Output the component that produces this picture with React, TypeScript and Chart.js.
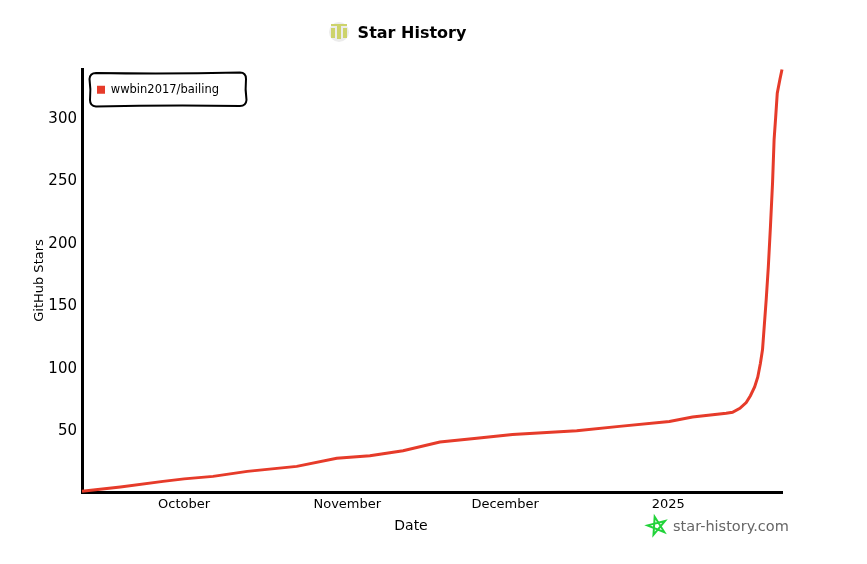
import React, { useEffect, useRef } from "react";
import { Chart, registerables } from "chart.js";

Chart.register(...registerables);

const SERIES_NAME = "wwbin2017/bailing";
const CHART_TITLE = "Star History";
const X_TITLE = "Date";
const Y_TITLE = "GitHub Stars";
const WATERMARK = "star-history.com";
// days since 1 October 2024
const dayOffsets = [-19.4, -12.1, -4, 0, 5.5, 12, 21.4, 29, 35.3, 41.6, 48.6, 55.6, 62.4, 68.9, 74.6, 82.7, 92.2, 96.6, 103, 104.2, 105.6, 106.8, 107.6, 108.4, 109, 109.5, 109.9, 110.6, 111, 111.4, 111.8, 112.1, 112.4, 112.7, 113.2, 113.6];
const stars = [0.6, 4, 8.5, 10.5, 12.5, 16.5, 20.5, 27, 29, 33, 40, 43, 46, 47.6, 49, 52.5, 56.4, 60, 63, 63.8, 67, 71.6, 77, 84, 92, 103, 114, 154, 180, 212, 247, 282, 300, 319, 330, 338];
const xTickValues = [0, 31, 61, 92];
const xTickLabels = ["October", "November", "December", "2025"];
const yTickValues = [50, 100, 150, 200, 250, 300];
const X_MIN = -19.4;
const X_MAX = 113.6;
const Y_MAX = 338.4;
const RED = "#e63b2a";
const FONT = "'DejaVu Sans'";

const decorations = {
  id: "decorations",
  afterLayout(chart: any) {
    // keep the legend inside the top-left of the plot
    const lg = chart.legend;
    const h = lg.bottom - lg.top;
    lg.top = chart.chartArea.top;
    lg.bottom = lg.top + h;
  },
  beforeDraw(chart: any) {
    // nudge the y labels onto their tick positions
    chart.scales.y.getLabelItems().forEach((it: any) => {
      if (!it.nudged) {
        it.options.translation[1] += 2;
        it.nudged = true;
      }
    });
  },
  afterDraw(chart: any) {
    const { ctx, chartArea } = chart;
    ctx.save();
    // legend frame
    const l = chartArea.left + 8, t = chartArea.top + 4, w = 156, h = 33, r = 6;
    ctx.strokeStyle = "#000";
    ctx.lineWidth = 2;
    ctx.beginPath();
    ctx.moveTo(l + r, t);
    ctx.quadraticCurveTo(l + w * 0.5, t + 1.2, l + w - r, t - 0.5);
    ctx.quadraticCurveTo(l + w, t - 0.5, l + w, t + r);
    ctx.quadraticCurveTo(l + w - 1, t + h * 0.5, l + w + 0.5, t + h - r);
    ctx.quadraticCurveTo(l + w, t + h, l + w - r, t + h);
    ctx.quadraticCurveTo(l + w * 0.5, t + h - 1, l + r, t + h + 0.5);
    ctx.quadraticCurveTo(l, t + h, l, t + h - r);
    ctx.quadraticCurveTo(l + 1, t + h * 0.5, l - 0.5, t + r);
    ctx.quadraticCurveTo(l, t, l + r, t);
    ctx.stroke();
    // logo
    ctx.fillStyle = "#ececec";
    ctx.beginPath();
    ctx.arc(339, 32, 10, 0, Math.PI * 2);
    ctx.fill();
    ctx.fillStyle = "#cdd36b";
    ctx.fillRect(331, 28, 4, 10);
    ctx.fillRect(343, 28, 4, 10);
    ctx.fillRect(337, 26, 4, 13);
    ctx.fillRect(331, 24, 16, 2);
    ctx.textAlign = "center";
    ctx.textBaseline = "middle";
    // x axis title
    ctx.fillStyle = "#000";
    ctx.font = `14px ${FONT}`;
    ctx.fillText(X_TITLE, 411, 526);
    // watermark
    ctx.fillStyle = "#666";
    ctx.font = `14.5px ${FONT}`;
    ctx.textAlign = "left";
    ctx.fillText(WATERMARK, 673, 527);
    // star
    ctx.strokeStyle = "#22d33a";
    ctx.lineWidth = 2;
    ctx.beginPath();
    for (let i = 0; i < 5; i++) {
      const a = -Math.PI / 2 - 0.25 + (i * 4 * Math.PI) / 5;
      const x = 657 + 9.5 * Math.cos(a), y = 526 + 9.5 * Math.sin(a);
      i === 0 ? ctx.moveTo(x, y) : ctx.lineTo(x, y);
    }
    ctx.closePath();
    ctx.stroke();
    ctx.restore();
  },
};

export default function App() {
  const ref = useRef<HTMLCanvasElement>(null);
  useEffect(() => {
    const chart = new Chart(ref.current!, {
      type: "line",
      data: {
        datasets: [
          {
            label: SERIES_NAME,
            data: dayOffsets.map((x, i) => ({ x, y: stars[i] })),
            borderColor: RED,
            backgroundColor: RED,
            borderWidth: 3,
            pointRadius: 0,
            tension: 0,
            clip: false,
          },
        ],
      },
      options: {
        responsive: false,
        animation: false,
        layout: { autoPadding: false, padding: { left: 42, right: 85, top: 0, bottom: 30 } },
        plugins: {
          title: {
            display: true,
            text: CHART_TITLE,
            color: "#000",
            font: { family: FONT, size: 16, weight: "600" },
            padding: { top: 24, bottom: 25.8 },
          },
          legend: {
            position: "chartArea",
            align: "start",
            labels: {
              boxWidth: 8,
              boxHeight: 8,
              padding: 15,
              color: "#000",
              font: { family: FONT, size: 11.5 },
              generateLabels: (c: any) =>
                Chart.defaults.plugins.legend.labels.generateLabels(c).map((it: any) => ({ ...it, lineWidth: 0 })),
            },
          },
          tooltip: { enabled: false },
        },
        scales: {
          x: {
            type: "linear",
            min: X_MIN,
            max: X_MAX,
            afterFit: (s: any) => { s.height = 42; },
            afterBuildTicks: (s: any) => { s.ticks = xTickValues.map((value) => ({ value })); },
            grid: { display: false, drawTicks: false },
            border: { color: "#000", width: 3 },
            ticks: {
              autoSkip: false,
              maxRotation: 0,
              padding: 5,
              color: "#000",
              font: { family: FONT, size: 13 },
              callback: (v: any) => xTickLabels[xTickValues.indexOf(Number(v))],
            },
          },
          y: {
            min: 0,
            max: Y_MAX,
            afterFit: (s: any) => { s.width = 40; },
            afterBuildTicks: (s: any) => { s.ticks = yTickValues.map((value) => ({ value })); },
            grid: { display: false, drawTicks: false },
            border: { color: "#000", width: 3 },
            ticks: { padding: 5, color: "#000", font: { family: FONT, size: 15 } },
            title: { display: true, text: Y_TITLE, color: "#000", padding: { top: -10, bottom: 0 }, font: { family: FONT, size: 13 } },
          },
        },
      } as any,
      plugins: [decorations],
    });
    return () => chart.destroy();
  }, []);
  return (
    <canvas
      ref={ref}
      width={867}
      height={564}
      style={{ position: "fixed", left: 0, top: 0, width: 867, height: 564 }}
    />
  );
}
